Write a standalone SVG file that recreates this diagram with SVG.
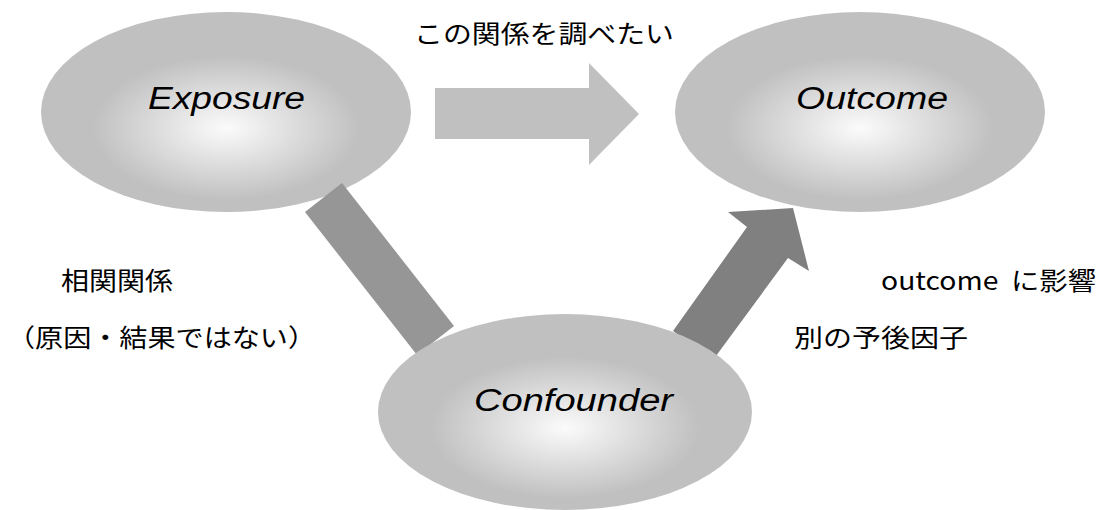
<svg xmlns="http://www.w3.org/2000/svg" width="1099" height="510" viewBox="0 0 1099 510">
<style>
.node-label{font-family:"Liberation Sans",Arial,sans-serif;font-style:italic;font-size:31px;fill:#000;text-anchor:start}
.jp{font-family:"Noto Sans CJK JP","Noto Sans",sans-serif;font-size:25px;fill:#000}
</style>
<defs>
<radialGradient id="g" cx="50%" cy="58%" r="50%">
<stop offset="0" stop-color="#fbfbfb"/>
<stop offset="0.72" stop-color="#c0c0c0"/>
<stop offset="1" stop-color="#c0c0c0"/>
</radialGradient>
</defs>
<rect width="1099" height="510" fill="#fff"/>
<g id="exposure">
<ellipse cx="226" cy="112" rx="185" ry="100" fill="url(#g)"/>
<text class="node-label" x="148" y="109" textLength="157" lengthAdjust="spacingAndGlyphs">Exposure</text>
</g>
<g id="outcome">
<ellipse cx="860" cy="112" rx="185" ry="100" fill="url(#g)"/>
<text class="node-label" x="796" y="109" textLength="152" lengthAdjust="spacingAndGlyphs">Outcome</text>
</g>
<g id="connectors">
<polygon points="435,88 589,88 589,63 639,114 589,165 589,139 435,139" fill="#c0c0c0"/>
<polygon points="342,183 305,212 417,355 454,326" fill="#969696"/>
<polygon points="673,331 747,227 728,212 793,208 809,271 788,258 713,360" fill="#808080"/>
</g>
<g id="confounder">
<ellipse cx="565" cy="412" rx="187" ry="98" fill="url(#g)"/>
<text class="node-label" x="474" y="411" textLength="199" lengthAdjust="spacingAndGlyphs">Confounder</text>
</g>
<g id="labels">
<text class="jp" x="414" y="43" textLength="260" lengthAdjust="spacingAndGlyphs">この関係を調べたい</text>
<text class="jp" x="61" y="290" textLength="112" lengthAdjust="spacingAndGlyphs">相関関係</text>
<text class="jp" x="881" y="290" textLength="215" lengthAdjust="spacingAndGlyphs">outcome&#160; に影響</text>
<text class="jp" x="7" y="347" textLength="309" lengthAdjust="spacingAndGlyphs">（原因・結果ではない）</text>
<text class="jp" x="794" y="347" textLength="174" lengthAdjust="spacingAndGlyphs">別の予後因子</text>
</g>
</svg>
